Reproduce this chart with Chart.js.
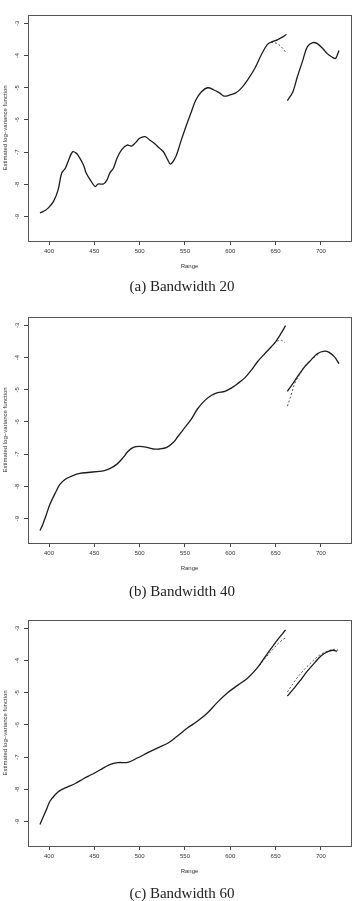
<!DOCTYPE html>
<html>
<head>
<meta charset="utf-8">
<script src="https://cdn.jsdelivr.net/npm/chart.js@4.4.1/dist/chart.umd.min.js"></script>
<style>
    body { margin: 0; background: #fff; width: 356px; height: 901px; position: relative; overflow: hidden; }
    .panel { position: absolute; left: 0; width: 356px; height: 280px; }
    .panel canvas { display: block; }
    .caption { position: absolute; left: 4px; width: 356px; height: 16px; line-height: 16px; text-align: center;
               font-family: "Liberation Serif", "Times New Roman", serif; font-size: 15px; color: #222; }
</style>
</head>
<body>
<div class="panel" style="top:0"><canvas id="chartA" width="356" height="280"></canvas></div>
<div class="caption" style="top:278px">(a) Bandwidth 20</div>
<div class="panel" style="top:302px"><canvas id="chartB" width="356" height="280"></canvas></div>
<div class="caption" style="top:583px">(b) Bandwidth 40</div>
<div class="panel" style="top:605px"><canvas id="chartC" width="356" height="280"></canvas></div>
<div class="caption" style="top:885px">(c) Bandwidth 60</div>

<script>
// axis ticks
const xTicks = [400, 450, 500, 550, 600, 650, 700];
const yTicks = [-9, -8, -7, -6, -5, -4, -3];

// (a) bandwidth 20
const rangeA = [390, 394, 399, 405, 410, 414, 418, 421, 426, 430, 433, 438, 441, 445, 451, 454, 460, 464, 467, 471, 475, 480, 486, 491, 495, 500, 506, 511, 516, 520, 526, 531, 534, 539, 542, 546, 551, 557, 562, 568, 575, 582, 588, 593, 599, 606, 612, 619, 627, 634, 641, 647, 652, 658, 662];
const logVarA = [-8.89, -8.84, -8.74, -8.53, -8.17, -7.65, -7.50, -7.29, -6.99, -7.03, -7.14, -7.40, -7.65, -7.84, -8.07, -7.99, -7.99, -7.86, -7.65, -7.50, -7.19, -6.93, -6.78, -6.81, -6.72, -6.57, -6.52, -6.62, -6.72, -6.83, -6.98, -7.24, -7.37, -7.19, -6.98, -6.62, -6.21, -5.75, -5.38, -5.13, -5.00, -5.07, -5.16, -5.26, -5.23, -5.16, -5.02, -4.76, -4.40, -3.99, -3.65, -3.56, -3.51, -3.42, -3.34];
const rangeAdash = [645, 652, 658, 662];
const logVarAdash = [-3.58, -3.63, -3.78, -3.94];
const rangeA2 = [663, 669, 674, 680, 685, 691, 696, 702, 707, 713, 716, 718, 720];
const logVarA2 = [-5.40, -5.13, -4.66, -4.15, -3.73, -3.60, -3.63, -3.78, -3.94, -4.06, -4.09, -3.99, -3.84];

// (b) bandwidth 40
const rangeB = [390, 393, 397, 401, 407, 412, 418, 425, 434, 443, 453, 460, 467, 475, 482, 487, 493, 500, 508, 515, 522, 530, 537, 542, 550, 557, 564, 572, 579, 586, 594, 601, 608, 616, 623, 630, 638, 645, 650, 656, 661];
const logVarB = [-9.37, -9.19, -8.88, -8.56, -8.20, -7.94, -7.78, -7.68, -7.60, -7.57, -7.54, -7.52, -7.45, -7.31, -7.10, -6.92, -6.79, -6.76, -6.79, -6.84, -6.84, -6.79, -6.64, -6.46, -6.17, -5.91, -5.59, -5.33, -5.18, -5.09, -5.05, -4.95, -4.81, -4.63, -4.40, -4.13, -3.88, -3.67, -3.51, -3.25, -3.01];
const rangeBdash = [648, 652, 656, 660];
const logVarBdash = [-3.57, -3.49, -3.46, -3.53];
const rangeB2 = [663, 669, 674, 682, 689, 696, 704, 709, 715, 720];
const logVarB2 = [-5.05, -4.81, -4.60, -4.29, -4.08, -3.88, -3.80, -3.84, -3.98, -4.19];
const rangeB2dash = [663, 667, 671, 676, 683, 691, 698];
const logVarB2dash = [-5.51, -5.18, -4.81, -4.55, -4.24, -4.03, -3.88];

// (c) bandwidth 60
const rangeC = [390, 394, 398, 401, 407, 412, 420, 429, 438, 447, 456, 467, 476, 487, 498, 509, 520, 531, 541, 553, 564, 575, 586, 597, 608, 619, 630, 639, 647, 654, 661];
const logVarC = [-9.09, -8.83, -8.57, -8.37, -8.16, -8.04, -7.93, -7.82, -7.67, -7.54, -7.40, -7.23, -7.17, -7.16, -7.02, -6.86, -6.71, -6.57, -6.36, -6.09, -5.88, -5.62, -5.29, -5.00, -4.77, -4.55, -4.22, -3.86, -3.55, -3.29, -3.05];
const rangeCdash = [632, 640, 647, 654, 661];
const logVarCdash = [-4.16, -3.88, -3.65, -3.44, -3.29];
const rangeC2 = [663, 671, 678, 685, 693, 700, 707, 713, 718];
const logVarC2 = [-5.10, -4.84, -4.59, -4.33, -4.07, -3.86, -3.73, -3.68, -3.71];
const rangeC2dash = [663, 671, 680, 689, 698, 707, 715, 719];
const logVarC2dash = [-4.98, -4.64, -4.33, -4.07, -3.84, -3.71, -3.65, -3.68];

function toPoints(xs, ys) {
    return xs.map((x, i) => ({x: x, y: ys[i]}));
}

function solid(xs, ys) {
    return {data: toPoints(xs, ys), borderColor: '#1c1c1c', borderWidth: 1.3};
}

function dashed(xs, ys) {
    return {data: toPoints(xs, ys), borderColor: '#555', borderWidth: 1, borderDash: [2, 2]};
}

// box round the plot region and rotated y tick labels, like R does
const framePlugin = {
    id: 'frame',
    afterDraw(chart) {
        const ctx = chart.ctx;
        const a = chart.chartArea;
        const y = chart.scales.y;
        ctx.save();
        ctx.strokeStyle = '#555';
        ctx.lineWidth = 1;
        ctx.strokeRect(a.left + 0.5, a.top + 0.5, a.right - a.left, a.bottom - a.top);
        ctx.fillStyle = '#333';
        ctx.font = '6px "Liberation Sans", Arial, sans-serif';
        ctx.textAlign = 'center';
        ctx.textBaseline = 'middle';
        yTicks.forEach(v => {
            ctx.save();
            ctx.translate(17, y.getPixelForValue(v));
            ctx.rotate(-Math.PI / 2);
            ctx.fillText('-' + Math.abs(v), 0, 0);
            ctx.restore();
        });
        ctx.restore();
    }
};

function makeChart(id, datasets) {
    return new Chart(document.getElementById(id), {
        type: 'line',
        data: {datasets: datasets},
        options: {
            responsive: false,
            animation: false,
            layout: {padding: {top: 15, right: 5, left: 0, bottom: 0}},
            plugins: {legend: {display: false}, tooltip: {enabled: false}},
            elements: {
                point: {radius: 0},
                line: {tension: 0.35, fill: false}
            },
            scales: {
                x: {
                    type: 'linear',
                    min: 376.8,
                    max: 733.2,
                    afterBuildTicks: s => { s.ticks = xTicks.map(v => ({value: v})); },
                    afterFit: s => { s.height = 39; },
                    grid: {drawOnChartArea: false, tickLength: 4, color: '#444'},
                    border: {display: false},
                    ticks: {font: {size: 6, family: '"Liberation Sans", Arial'}, color: '#333', padding: 3, maxRotation: 0},
                    title: {display: true, text: 'Range', font: {size: 6, family: '"Liberation Sans", Arial'}, color: '#333', padding: {bottom: 10.4}}
                },
                y: {
                    type: 'linear',
                    min: -9.76,
                    max: -2.74,
                    afterBuildTicks: s => { s.ticks = yTicks.map(v => ({value: v})); },
                    afterFit: s => { s.width = 28; },
                    grid: {drawOnChartArea: false, tickLength: 4, color: '#444'},
                    border: {display: false},
                    ticks: {callback: () => ''},
                    title: {display: true, text: 'Estimated log\u2212variance function', font: {size: 6, family: '"Liberation Sans", Arial'}, color: '#333', padding: {top: 1.4}}
                }
            }
        },
        plugins: [framePlugin]
    });
}

makeChart('chartA', [solid(rangeA, logVarA), dashed(rangeAdash, logVarAdash), solid(rangeA2, logVarA2)]);
makeChart('chartB', [solid(rangeB, logVarB), dashed(rangeBdash, logVarBdash), solid(rangeB2, logVarB2), dashed(rangeB2dash, logVarB2dash)]);
makeChart('chartC', [solid(rangeC, logVarC), dashed(rangeCdash, logVarCdash), solid(rangeC2, logVarC2), dashed(rangeC2dash, logVarC2dash)]);
</script>
</body>
</html>
